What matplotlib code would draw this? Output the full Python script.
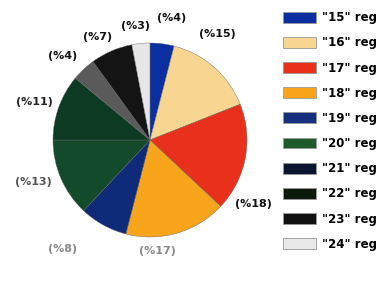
import numpy as np
import matplotlib
matplotlib.use("Agg")
import matplotlib.pyplot as plt
from matplotlib.patches import Patch

categories = ['"15" reg', '"16" reg', '"17" reg', '"18" reg', '"19" reg',
              '"20" reg', '"21" reg', '"22" reg', '"23" reg', '"24" reg']
values = [4, 15, 18, 17, 8, 13, 11, 4, 7, 3]
labels = ["(%4)", "(%15)", "(%18)", "(%17)", "(%8)", "(%13)", "(%11)", "(%4)", "(%7)", "(%3)"]

slice_colors = ["#0b2fa0", "#f8d590", "#e8301c", "#f8a51c", "#0e2a78",
                "#134a2c", "#0d3a22", "#5a5a5a", "#141414", "#e6e6e6"]
legend_colors = ["#0b2fa0", "#f8d590", "#e8301c", "#f8a51c", "#14307e",
                 "#1f5a2a", "#0a1530", "#0c1a0c", "#111111", "#e8e8e8"]
label_colors = ["#111111", "#111111", "#111111", "#8a8a8a", "#8a8a8a",
                "#555555", "#222222", "#111111", "#111111", "#111111"]
label_dist = [1.28, 1.30, 1.26, 1.15, 1.44, 1.28, 1.25, 1.25, 1.19, 1.19]
label_shift = [2.6, -9, 21, 12.6, 10, 3.7, -1.5, -3, -3.4, -2]

fig = plt.figure(figsize=(3.8, 2.91), dpi=100)
ax = fig.add_axes([53/380, 54/291, 194/380, 194/291])
wedges, _ = ax.pie(values, colors=slice_colors, startangle=90, counterclock=False,
                   wedgeprops=dict(linewidth=0.3, edgecolor="#666666"))
ax.set_aspect("equal")
ax.set_xlim(-1, 1)
ax.set_ylim(-1, 1)
ax.axis("off")

for w, lab, d, s, c in zip(wedges, labels, label_dist, label_shift, label_colors):
    ang = np.deg2rad((w.theta1 + w.theta2) / 2 - s)
    ax.text(d * np.cos(ang), d * np.sin(ang), lab, ha="center", va="center",
            fontsize=8, fontweight="bold", color=c, clip_on=False)

handles = [Patch(facecolor=c, edgecolor="#999999", linewidth=0.6) for c in legend_colors]
leg = fig.legend(handles, categories, loc="upper left", bbox_to_anchor=(278.5/380, 1 - 6.5/291),
                 borderaxespad=0, frameon=False, handlelength=2.8, handleheight=1.02,
                 labelspacing=1.03, handletextpad=0.45, prop=dict(size=8.5, weight="bold"))

fig.savefig("out.png", dpi=100)
